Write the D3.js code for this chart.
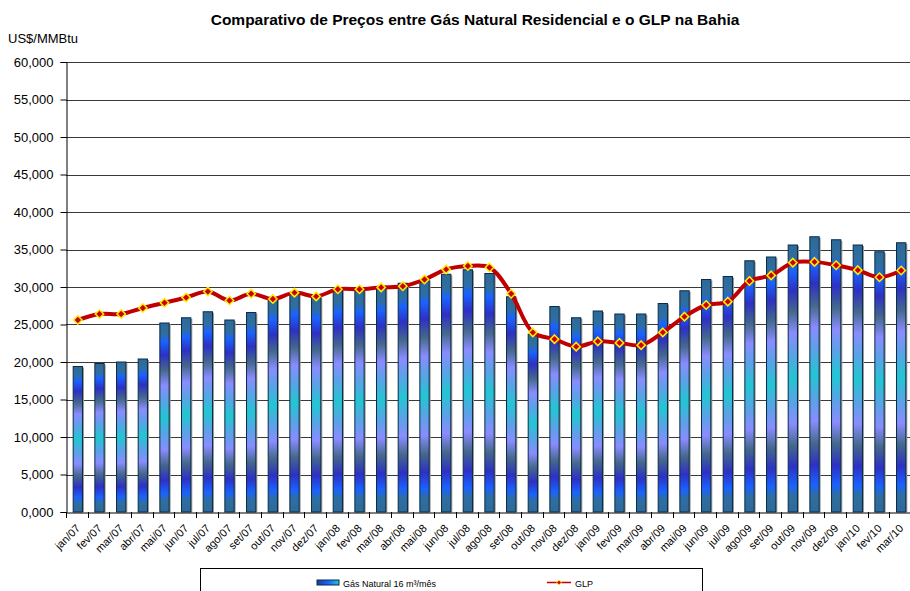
<!DOCTYPE html>
<html>
<head>
<meta charset="utf-8">
<script src="https://cdn.jsdelivr.net/npm/d3@7"></script>
<style>
  body { margin: 0; background: #fff; }
  svg { display: block; font-family: Arial, "Liberation Sans", sans-serif; }
</style>
</head>
<body>
<div id="chart"></div>
<script>
// Data
const months = ["jan/07","fev/07","mar/07","abr/07","mai/07","jun/07","jul/07","ago/07","set/07","out/07","nov/07","dez/07",
  "jan/08","fev/08","mar/08","abr/08","mai/08","jun/08","jul/08","ago/08","set/08","out/08","nov/08","dez/08",
  "jan/09","fev/09","mar/09","abr/09","mai/09","jun/09","jul/09","ago/09","set/09","out/09","nov/09","dez/09",
  "jan/10","fev/10","mar/10"];
const gasNatural = [19400, 19800, 20000, 20400, 25200, 25900, 26700, 25600, 26600, 28500, 29200, 28700,
  29600, 29600, 29900, 30500, 31000, 31700, 32300, 31800, 28700, 23700, 27400, 25900,
  26800, 26400, 26400, 27800, 29500, 31000, 31400, 33500, 34000, 35600, 36700, 36300,
  35600, 34700, 35900];
const glp = [25600, 26400, 26400, 27200, 27900, 28600, 29400, 28200, 29100, 28400, 29250, 28750,
  29700, 29700, 29950, 30100, 31000, 32350, 32800, 32600, 29100, 23950, 23050, 22050,
  22750, 22550, 22250, 23950, 26050, 27600, 28050, 30800, 31550, 33250, 33350, 32900,
  32250, 31300, 32200];
const yTicks = [0, 5000, 10000, 15000, 20000, 25000, 30000, 35000, 40000, 45000, 50000, 55000, 60000];
const yTickLabels = ["0,000","5,000","10,000","15,000","20,000","25,000","30,000","35,000","40,000","45,000","50,000","55,000","60,000"];

const width = 910, height = 591;
const plot = { left: 66, right: 911, top: 62, bottom: 512 };

const svg = d3.select("#chart")
  .append("svg")
    .attr("width", width)
    .attr("height", height);

// Bar gradient (symmetric, like the Excel preset)
const defs = svg.append("defs");
const stops = [
  [0, "#2d6a9a"], [0.06, "#2f6ea0"], [0.10, "#1a62ff"], [0.17, "#2e30c4"], [0.25, "#45688c"],
  [0.33, "#8a8cff"], [0.41, "#5aa2e6"], [0.5, "#22c6d2"],
  [0.59, "#5aa2e6"], [0.67, "#8a8cff"], [0.75, "#45688c"], [0.83, "#2e30c4"], [0.90, "#1a62ff"],
  [0.94, "#2f6ea0"], [1, "#2d6a9a"]
];
const grad = defs.append("linearGradient")
  .attr("id", "barGrad")
  .attr("x1", 0).attr("y1", 0).attr("x2", 0).attr("y2", 1);
grad.selectAll("stop").data(stops).join("stop")
  .attr("offset", d => d[0])
  .attr("stop-color", d => d[1]);
const gradH = defs.append("linearGradient")
  .attr("id", "legendGrad")
  .attr("x1", 0).attr("y1", 0).attr("x2", 1).attr("y2", 0);
gradH.selectAll("stop").data([[0, "#1a3c9c"], [0.5, "#1a62ff"], [1, "#22c6d2"]]).join("stop")
  .attr("offset", d => d[0])
  .attr("stop-color", d => d[1]);

// Scales
const xScale = d3.scaleBand()
  .domain(months)
  .range([plot.left, plot.right])
  .paddingInner(0)
  .paddingOuter(0);
const yScale = d3.scaleLinear()
  .domain([0, 60000])
  .range([plot.bottom, plot.top]);

const barW = 9.3;
const cx = m => xScale(m) + xScale.bandwidth() / 2 + 1;

// Title
svg.append("text")
  .attr("x", 475)
  .attr("y", 25)
  .attr("text-anchor", "middle")
  .style("font-size", "15.5px")
  .style("font-weight", "bold")
  .text("Comparativo de Preços entre Gás Natural Residencial e o GLP na Bahia");

svg.append("text")
  .attr("x", 8)
  .attr("y", 43)
  .style("font-size", "13px")
  .text("US$/MMBtu");

// Gridlines
svg.append("g")
  .selectAll("line")
  .data(yTicks.slice(1))
  .join("line")
    .attr("x1", plot.left)
    .attr("x2", width)
    .attr("y1", d => Math.round(yScale(d)) + 0.5)
    .attr("y2", d => Math.round(yScale(d)) + 0.5)
    .attr("stroke", "#3a3a3a")
    .attr("stroke-width", 1);

// Y axis
const yAxis = svg.append("g")
  .attr("transform", `translate(${plot.left + 0.5},0)`)
  .call(d3.axisLeft(yScale)
    .tickValues(yTicks)
    .tickFormat((d, i) => yTickLabels[i])
    .tickSize(6)
    .tickPadding(7));
yAxis.select(".domain").attr("stroke", "#000");
yAxis.selectAll(".tick line").attr("stroke", "#000");
yAxis.selectAll("text")
  .style("font-size", "13px")
  .style("font-family", "Arial, 'Liberation Sans', sans-serif")
  .attr("fill", "#000");

// Bars: shadow, then gradient bar
const bars = svg.append("g");
bars.selectAll("rect.shadow")
  .data(months)
  .join("rect")
    .attr("class", "shadow")
    .attr("x", (d, i) => cx(d) - barW / 2 + 1.5)
    .attr("y", (d, i) => yScale(gasNatural[i]) + 1)
    .attr("width", barW)
    .attr("height", (d, i) => plot.bottom - yScale(gasNatural[i]) - 1)
    .attr("fill", "#9a9a9a");
bars.selectAll("rect.bar")
  .data(months)
  .join("rect")
    .attr("class", "bar")
    .attr("x", (d, i) => cx(d) - barW / 2)
    .attr("y", (d, i) => yScale(gasNatural[i]))
    .attr("width", barW)
    .attr("height", (d, i) => plot.bottom - yScale(gasNatural[i]))
    .attr("fill", "url(#barGrad)")
    .attr("stroke", "#0a2c48")
    .attr("stroke-width", 1);

// X axis
const xAxis = svg.append("g")
  .attr("transform", `translate(0,${plot.bottom + 0.5})`)
  .call(d3.axisBottom(xScale).tickSize(0).tickFormat(""));
xAxis.select(".domain").attr("stroke", "#000");
// Ticks between categories
svg.append("g")
  .selectAll("line")
  .data(months)
  .join("line")
    .attr("x1", d => Math.round(xScale(d)) + 0.5)
    .attr("x2", d => Math.round(xScale(d)) + 0.5)
    .attr("y1", plot.bottom)
    .attr("y2", plot.bottom + 6)
    .attr("stroke", "#000");
svg.append("g")
  .selectAll("text")
  .data(months)
  .join("text")
    .attr("transform", d => `translate(${cx(d) + 3},${plot.bottom + 17}) rotate(-45)`)
    .attr("text-anchor", "end")
    .style("font-size", "11px")
    .text(d => d);

// GLP line
const line = d3.line()
  .x((d, i) => cx(months[i]))
  .y(d => yScale(d))
  .curve(d3.curveCatmullRom.alpha(0.5));
svg.append("path")
  .datum(glp)
  .attr("d", line)
  .attr("fill", "none")
  .attr("stroke", "#c00000")
  .attr("stroke-width", 4)
  .attr("stroke-linejoin", "round");

const diamond = d3.symbol().type(d3.symbolDiamond2).size(45);
svg.append("g")
  .selectAll("path")
  .data(glp)
  .join("path")
    .attr("d", diamond)
    .attr("transform", (d, i) => `translate(${cx(months[i])},${yScale(d)})`)
    .attr("fill", "#cc0000")
    .attr("stroke", "#ffee00")
    .attr("stroke-width", 1.5);

// Legend
const legend = svg.append("g");
legend.append("rect")
  .attr("x", 200.5)
  .attr("y", 568.5)
  .attr("width", 502)
  .attr("height", 40)
  .attr("fill", "#fff")
  .attr("stroke", "#000");
legend.append("rect")
  .attr("x", 317)
  .attr("y", 580)
  .attr("width", 22)
  .attr("height", 5)
  .attr("fill", "url(#legendGrad)")
  .attr("stroke", "#0a2c48")
  .attr("stroke-width", 1);
legend.append("text")
  .attr("x", 343)
  .attr("y", 587)
  .style("font-size", "9px")
  .text("Gás Natural 16 m³/mês");
legend.append("line")
  .attr("x1", 547).attr("x2", 571)
  .attr("y1", 582.5).attr("y2", 582.5)
  .attr("stroke", "#c00000")
  .attr("stroke-width", 1.5);
legend.append("path")
  .attr("d", d3.symbol().type(d3.symbolDiamond2).size(14))
  .attr("transform", "translate(559,582.5)")
  .attr("fill", "#cc0000")
  .attr("stroke", "#ffee00")
  .attr("stroke-width", 1);
legend.append("text")
  .attr("x", 575)
  .attr("y", 587)
  .style("font-size", "9px")
  .text("GLP");
</script>
</body>
</html>
